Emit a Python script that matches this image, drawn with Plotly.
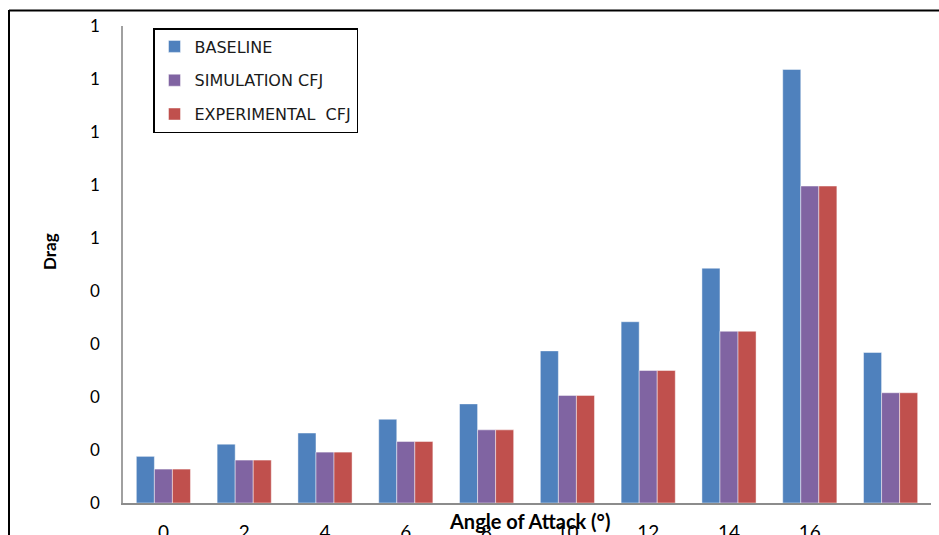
import plotly.graph_objects as go

# Angle of attack categories (degrees) and their axis labels
angles = ["0", "2", "4", "6", "8", "10", "12", "14", "16", "18"]
x_tick_labels = ["0", "2", "4", "6", "8", "10", "12", "14", "16", ""]

# Drag values per series
baseline = [0.088, 0.111, 0.132, 0.158, 0.187, 0.287, 0.342, 0.443, 0.818, 0.284]
simulation_cfj = [0.064, 0.081, 0.096, 0.116, 0.138, 0.203, 0.250, 0.324, 0.598, 0.208]
experimental_cfj = [0.064, 0.081, 0.096, 0.116, 0.138, 0.203, 0.250, 0.324, 0.598, 0.208]

# Y axis ticks, labelled with zero decimals
y_tick_values = [0.0, 0.1, 0.2, 0.3, 0.4, 0.5, 0.6, 0.7, 0.8, 0.9]
y_tick_labels = ["0", "0", "0", "0", "0", "1", "1", "1", "1", "1"]

series = [
    ("BASELINE", baseline, "#4F81BD"),
    ("SIMULATION CFJ", simulation_cfj, "#8064A2"),
    ("EXPERIMENTAL  CFJ", experimental_cfj, "#C0504D"),
]

fig = go.Figure()
for name, values, color in series:
    fig.add_bar(
        x=angles,
        y=values,
        name=name,
        legendgroup=name,
        marker=dict(color=color, line=dict(color="rgba(255,255,255,0.45)", width=1)),
    )

W, H = 939, 535
L, R, T, B = 123, 8, 26, 32
pw, ph = W - L - R, H - T - B


def px_x(x):
    return (x - L) / pw


def px_y(y):
    return (H - B - y) / ph


fig.update_layout(
    width=W,
    height=H,
    margin=dict(l=L, r=R, t=T, b=B, pad=0, autoexpand=False),
    paper_bgcolor="white",
    plot_bgcolor="white",
    barmode="group",
    bargap=0.33,
    bargroupgap=0,
    showlegend=True,
    legend=dict(
        x=px_x(153),
        y=px_y(28),
        xanchor="left",
        yanchor="top",
        bgcolor="white",
        bordercolor="black",
        borderwidth=1.5,
        font=dict(family="DejaVu Sans", size=16, color="#1a1a1a"),
        traceorder="grouped",
        tracegroupgap=10,
        itemwidth=30,
    ),
    xaxis=dict(
        type="category",
        categoryorder="array",
        categoryarray=angles,
        tickvals=angles,
        ticktext=x_tick_labels,
        showline=True,
        linecolor="#8c8c8c",
        linewidth=2,
        showgrid=False,
        ticks="",
        automargin=False,
        tickfont=dict(family="Lato", size=19, color="black"),
        ticklabelstandoff=11,
    ),
    yaxis=dict(
        range=[0, 0.9],
        tickvals=y_tick_values,
        ticktext=y_tick_labels,
        showline=True,
        linecolor="#a0a0a0",
        linewidth=1.5,
        showgrid=False,
        zeroline=False,
        ticks="",
        automargin=False,
        tickfont=dict(family="Lato", size=17, color="black"),
        ticklabelstandoff=18,
    ),
    annotations=[
        dict(
            text="<b>Angle of Attack (°)</b>",
            x=px_x(529),
            y=px_y(521),
            xref="paper",
            yref="paper",
            xanchor="center",
            yanchor="middle",
            showarrow=False,
            font=dict(family="Lato", size=20, color="black"),
        ),
        dict(
            text="<b>Drag</b>",
            x=px_x(49),
            y=px_y(252),
            xref="paper",
            yref="paper",
            xanchor="center",
            yanchor="middle",
            textangle=-90,
            showarrow=False,
            font=dict(family="Lato", size=17, color="black"),
        ),
    ],
    shapes=[
        # outer chart frame (left and top edges)
        dict(type="line", xref="paper", yref="paper",
             x0=px_x(9), x1=px_x(9), y0=px_y(10), y1=px_y(545),
             line=dict(color="black", width=2)),
        dict(type="line", xref="paper", yref="paper",
             x0=px_x(9), x1=px_x(945), y0=px_y(10.5), y1=px_y(10.5),
             line=dict(color="black", width=2)),
    ],
)

fig.write_html("out.html")
